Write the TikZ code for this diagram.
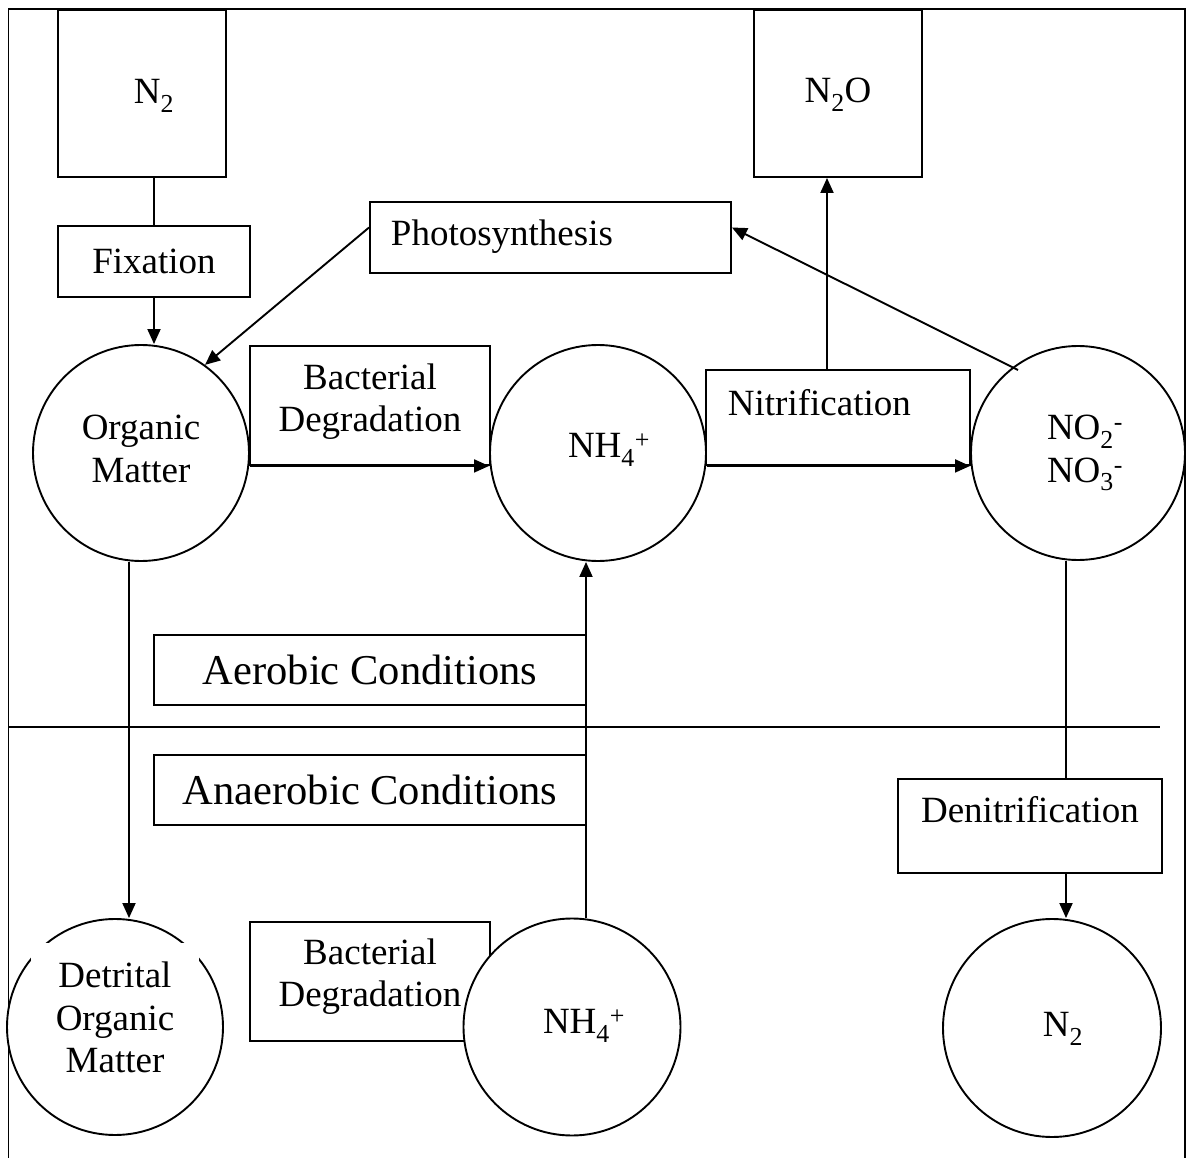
\documentclass[tikz,border=0pt]{standalone}
\usepackage{fontspec}
\setmainfont{Liberation Serif}
\usetikzlibrary{arrows.meta,calc}
\tikzset{
  txt/.style={font=\fontsize{37pt}{42.5pt}\selectfont, align=center, inner sep=0pt},
  bigtxt/.style={font=\fontsize{42.5pt}{48pt}\selectfont},
  box/.style={draw, rectangle, inner sep=0pt, txt},
  circ/.style={draw, circle, fill=white, inner sep=0pt, minimum size=#1, txt},
  mask/.style={fill=white, draw=none, inner sep=0pt},
  arr/.style={-{Triangle[length=15pt,width=13pt]}},
}
\begin{document}
\begin{tikzpicture}[x=1pt,y=-1pt,line width=1.9pt]
\useasboundingbox (0,0) rectangle (1187,1158);
% frame and divider
\coordinate (fBL) at (8.5,1165);
\coordinate (fTL) at (8.5,9);
\coordinate (fTR) at (1185,9);
\coordinate (fBR) at (1185,1165);
\draw (fBL) -- (fTL) -- (fTR) -- (fBR);
\coordinate (divL) at (8.5,727);
\coordinate (divR) at (1160,727);
\draw (divL) -- (divR);

% boxes
\node[box, minimum width=168pt, minimum height=167pt] (n2box) at (142,93.5) {};
\node[txt] (n2lbl) at (154,96) {N\textsubscript{2}};
\node[box, minimum width=168pt, minimum height=167pt] (n2obox) at (838,93.5) {};
\node[txt] (n2olbl) at (838,95) {N\textsubscript{2}O};
\node[box, minimum width=192pt, minimum height=71pt] (fix) at (154,261.5) {Fixation};
\node[box, minimum width=361pt, minimum height=71pt] (photo) at (550.5,237.5) {};
\node[txt, anchor=west] (photolbl) at (390,237) {Photosynthesis};
\node[box, minimum width=240pt, minimum height=119pt] (bac1) at (370,405.5) {};
\node[txt] (bac1lbl) at (370,401.5) {Bacterial\\Degradation};
\node[box, minimum width=264pt, minimum height=95pt] (nitr) at (838,417.5) {};
\node[txt, anchor=west] (nitrlbl) at (727,403) {Nitrification};
\node[box, bigtxt, minimum width=432pt, minimum height=70pt] (aer) at (370,670) {Aerobic Conditions};
\node[box, bigtxt, minimum width=432pt, minimum height=70pt] (anaer) at (370,790) {Anaerobic Conditions};
\node[box, minimum width=264pt, minimum height=94pt] (denit) at (1030,826) {};
\node[txt] (denitlbl) at (1030,810) {Denitrification};
\node[box, minimum width=240pt, minimum height=119pt] (bac2) at (370,981.5) {};
\node[txt] (bac2lbl) at (370,976.5) {Bacterial\\Degradation};

% circles
\node[circ=216pt] (om) at (141,453) {};
\node[txt] (omlbl) at (141,449) {Organic\\Matter};
\node[circ=216pt] (nh4a) at (598,453) {};
\node[txt] (nh4albl) at (609,450) {NH\textsubscript{4}\textsuperscript{+}};
\node[circ=214pt] (no) at (1078,453) {};
\node[txt] (nolbl) at (1085,453) {NO\textsubscript{2}\textsuperscript{-}\\NO\textsubscript{3}\textsuperscript{-}};
\node[circ=216pt] (det) at (115,1027) {};
\node[mask, minimum width=168pt, minimum height=142pt] (detmask) at (115,1014) {};
\node[txt] (detlbl) at (115,1017.5) {Detrital\\Organic\\Matter};
\node[circ=217pt] (nh4b) at (572,1027) {};
\node[txt] (nh4blbl) at (584,1026) {NH\textsubscript{4}\textsuperscript{+}};
\node[circ=218pt] (n2b) at (1052,1028) {};
\node[txt] (n2blbl) at (1063,1029) {N\textsubscript{2}};

% connectors
\draw (fix.north) -- (fix.north |- n2box.south);
\draw[arr] (fix.south) -- (fix.south |- om.north);
\draw[arr] ($(photo.west)+(0,-10)$) -- (om.54);
\draw[arr] (om.east |- bac1.south) -- (nh4a.west |- bac1.south);
\draw[arr] (nh4a.east |- nitr.south) -- (no.west |- nitr.south);
\draw[arr] ($(nitr.north)+(-11,0)$) -- ($(n2obox.south)+(-11,0)$);
\draw[arr] ($(no.center)+(-60,-83)$) -- ($(photo.east)+(0,-10)$);
\draw ($(no.south)+(-12,0)$) -- ($(denit.north)+(36,0)$);
\draw[arr] ($(denit.south)+(36,0)$) -- ($(n2b.north)+(14,0)$);
\draw[arr] ($(om.south)+(-12,0)$) -- ($(det.north)+(14,0)$);
\draw[arr] ($(nh4b.north)+(14,0)$) -- ($(nh4a.south)+(-12,0)$);
\end{tikzpicture}
\end{document}
